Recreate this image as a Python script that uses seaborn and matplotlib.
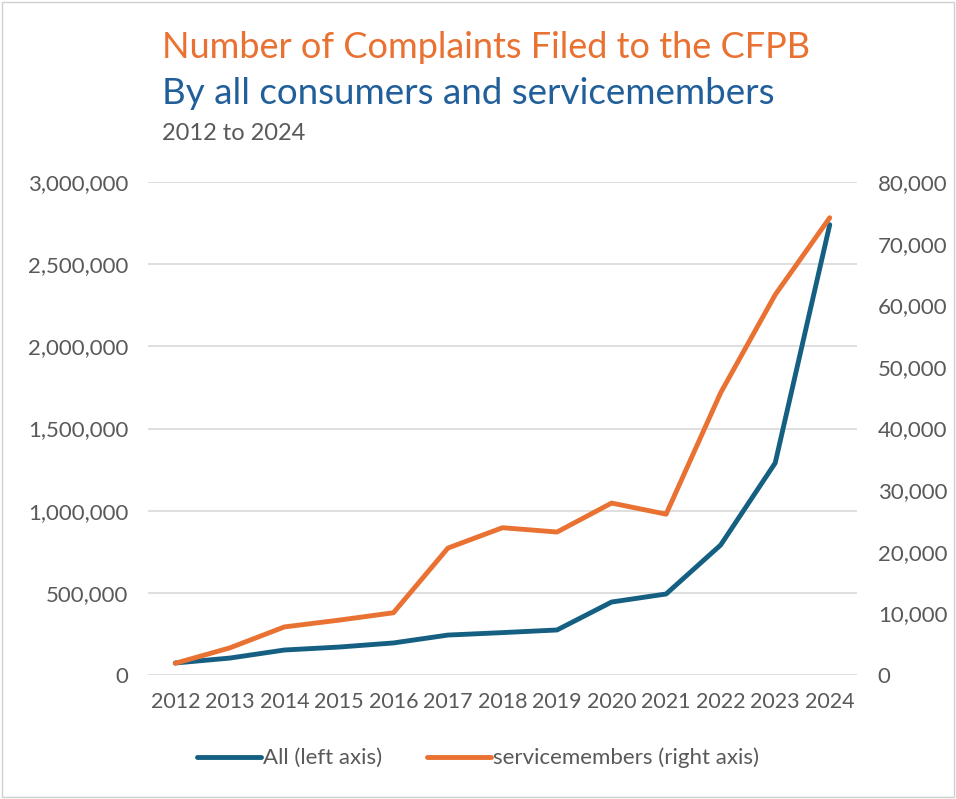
import matplotlib
matplotlib.use("Agg")
import matplotlib.pyplot as plt
import seaborn as sns
import pandas as pd
from matplotlib.ticker import FuncFormatter, MultipleLocator
from matplotlib.lines import Line2D
from matplotlib.patches import Rectangle

# data
years = [2012, 2013, 2014, 2015, 2016, 2017, 2018, 2019, 2020, 2021, 2022, 2023, 2024]
all_complaints = [73000, 103000, 152000, 170000, 195000, 243000, 258000, 274000,
                  444000, 493000, 791000, 1290000, 2740000]
servicemembers = [1900, 4400, 7800, 8900, 10100, 20600, 23900, 23200,
                  27900, 26100, 45800, 61700, 74200]

BLUE = "#156082"
ORANGE = "#E97132"
TEXT = "#595959"

df = pd.DataFrame({"year": years, "all": all_complaints, "sm": servicemembers})
df["pos"] = range(len(df))

sns.set_theme(style="white")
plt.rcParams["font.family"] = ["Lato", "DejaVu Sans"]

fig = plt.figure(figsize=(9.56, 7.99), dpi=100)
ax = fig.add_axes([148 / 956, 1 - 675 / 799, (857 - 148) / 956, (675 - 182) / 799])
ax2 = ax.twinx()

sns.lineplot(data=df, x="pos", y="all", ax=ax, color=BLUE, linewidth=3.5,
             solid_capstyle="round", zorder=3)
sns.lineplot(data=df, x="pos", y="sm", ax=ax2, color=ORANGE, linewidth=3.5,
             solid_capstyle="round", zorder=3)

ax.set_xlim(-0.5, len(years) - 0.5)
ax.set_ylim(0, 3000000)
ax2.set_ylim(0, 80000)
ax.yaxis.set_major_locator(MultipleLocator(500000))
ax2.yaxis.set_major_locator(MultipleLocator(10000))
fmt = FuncFormatter(lambda v, p: f"{int(v):,}")
ax.yaxis.set_major_formatter(fmt)
ax2.yaxis.set_major_formatter(fmt)
ax.set_xticks(df["pos"])
ax.set_xticklabels([str(y) for y in years])

ax.grid(axis="y", color="#D9D9D9", linewidth=1.2)
ax.set_axisbelow(True)
for a in (ax, ax2):
    for s in a.spines.values():
        s.set_visible(False)
    a.set_xlabel("")
    a.set_ylabel("")
    a.tick_params(length=0, labelsize=16, labelcolor=TEXT)
ax.tick_params(axis="x", labelsize=15.5, pad=12)
ax.tick_params(axis="y", pad=14)
ax2.tick_params(axis="y", pad=15)

fig.text(162 / 956, 1 - 47 / 799, "Number of Complaints Filed to the CFPB",
         color=ORANGE, fontsize=26, va="center", ha="left")
fig.text(162 / 956, 1 - 93 / 799, "By all consumers and servicemembers",
         color="#215F9A", fontsize=26.5, va="center", ha="left")
fig.text(162 / 956, 1 - 133 / 799, "2012 to 2024",
         color=TEXT, fontsize=17, va="center", ha="left")

handles = [Line2D([], [], color=BLUE, linewidth=3.5, solid_capstyle="round"),
           Line2D([], [], color=ORANGE, linewidth=3.5, solid_capstyle="round")]
fig.legend(handles, ["All (left axis)", "servicemembers (right axis)"],
           loc="center", bbox_to_anchor=(0.5, 1 - 758 / 799), ncol=2,
           frameon=False, fontsize=16, labelcolor=TEXT, handlelength=2.9,
           handletextpad=0.1, columnspacing=2.0)

fig.patches.append(Rectangle((0.002, 0.002), 0.996, 0.996, transform=fig.transFigure,
                             fill=False, edgecolor="#D0D0D0", linewidth=1))

fig.savefig("out.png", dpi=100)
